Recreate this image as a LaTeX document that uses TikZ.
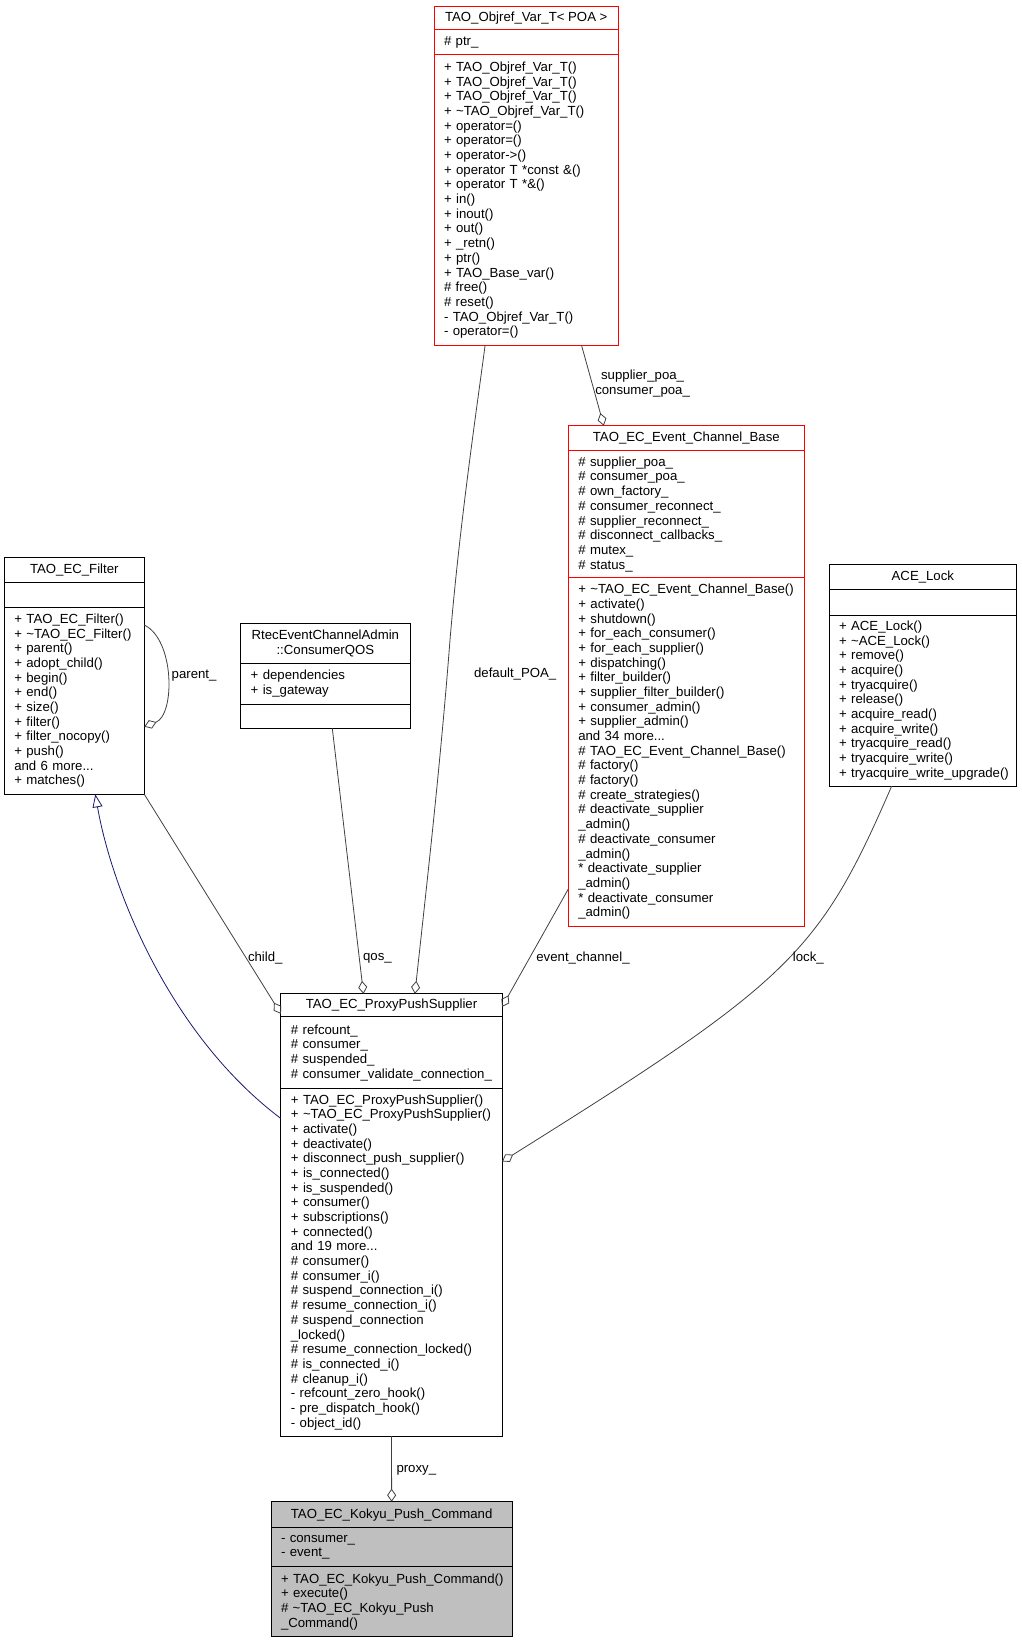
\documentclass[tikz,border=0pt]{standalone}
\usepackage{fontspec}
\setmainfont{Liberation Sans}
\usetikzlibrary{positioning,arrows.meta}
\definecolor{dxgray}{HTML}{404040}
\definecolor{dxnavy}{HTML}{191970}
\definecolor{dxfill}{HTML}{BFBFBF}
\newcommand{\dxfont}{\fontsize{13.2}{14.68}\selectfont}
\tikzset{
  part/.style={draw, line width=1pt, fill=white, outer sep=0pt, inner ysep=0pt, font=\dxfont},
  head/.style={part, minimum width=#1, align=center, inner xsep=0pt},
  body/.style={part, text width=#1, align=left, inner xsep=0pt, execute at begin node={\leftskip=10pt}},
  assoc/.style={draw=dxgray, line width=0.8pt, -{Diamond[open,length=13pt,width=9pt]}},
  inherit/.style={draw=dxnavy, line width=0.8pt, -{Triangle[open,length=13pt,width=10pt]}},
  role/.style={font=\dxfont, inner sep=0pt},
}
\begin{document}
\begin{tikzpicture}[x=1pt, y=-1pt]
  \useasboundingbox (0,0) rectangle (1021,1643);

  % TAO_Objref_Var_T
  \node[head=184.5pt, draw=red, minimum height=23.1pt, anchor=north] (objT) at (526.25,6.3) {TAO\_Objref\_Var\_T< POA >};
  \node[body=184.5pt, draw=red, minimum height=25.1pt, below=0pt of objT] (objA) {\# ptr\_};
  \node[body=184.5pt, draw=red, minimum height=291.4pt, below=0pt of objA] (objM) {+ TAO\_Objref\_Var\_T()\\
    + TAO\_Objref\_Var\_T()\\
    + TAO\_Objref\_Var\_T()\\
    + \textasciitilde TAO\_Objref\_Var\_T()\\
    + operator=()\\
    + operator=()\\
    + operator->()\\
    + operator T *const \&()\\
    + operator T *\&()\\
    + in()\\
    + inout()\\
    + out()\\
    + \_retn()\\
    + ptr()\\
    + TAO\_Base\_var()\\
    \# free()\\
    \# reset()\\
    - TAO\_Objref\_Var\_T()\\
    - operator=()};

  % TAO_EC_Event_Channel_Base
  \node[head=236pt, draw=red, minimum height=25pt, anchor=north] (ecbT) at (686.3,425.7) {TAO\_EC\_Event\_Channel\_Base};
  \node[body=236pt, draw=red, minimum height=127pt, below=0pt of ecbT] (ecbA) {\# supplier\_poa\_\\
    \# consumer\_poa\_\\
    \# own\_factory\_\\
    \# consumer\_reconnect\_\\
    \# supplier\_reconnect\_\\
    \# disconnect\_callbacks\_\\
    \# mutex\_\\
    \# status\_};
  \node[body=236pt, draw=red, minimum height=348.3pt, below=0pt of ecbA] (ecbM) {+ \textasciitilde TAO\_EC\_Event\_Channel\_Base()\\
    + activate()\\
    + shutdown()\\
    + for\_each\_consumer()\\
    + for\_each\_supplier()\\
    + dispatching()\\
    + filter\_builder()\\
    + supplier\_filter\_builder()\\
    + consumer\_admin()\\
    + supplier\_admin()\\
    and 34 more...\\
    \# TAO\_EC\_Event\_Channel\_Base()\\
    \# factory()\\
    \# factory()\\
    \# create\_strategies()\\
    \# deactivate\_supplier\\
    \_admin()\\
    \# deactivate\_consumer\\
    \_admin()\\
    {}* deactivate\_supplier\\
    \_admin()\\
    {}* deactivate\_consumer\\
    \_admin()};

  % TAO_EC_Filter
  \node[head=140pt, minimum height=25pt, anchor=north] (filT) at (74.3,557.3) {TAO\_EC\_Filter};
  \node[body=140pt, minimum height=25pt, below=0pt of filT] (filA) {};
  \node[body=140pt, minimum height=187pt, below=0pt of filA] (filM) {+ TAO\_EC\_Filter()\\
    + \textasciitilde TAO\_EC\_Filter()\\
    + parent()\\
    + adopt\_child()\\
    + begin()\\
    + end()\\
    + size()\\
    + filter()\\
    + filter\_nocopy()\\
    + push()\\
    and 6 more...\\
    + matches()};

  % RtecEventChannelAdmin::ConsumerQOS
  \node[head=169.3pt, minimum height=40pt, anchor=north] (qosT) at (325.35,623.3) {RtecEventChannelAdmin\\::ConsumerQOS};
  \node[body=169.3pt, minimum height=40.7pt, below=0pt of qosT] (qosA) {+ dependencies\\
    + is\_gateway};
  \node[body=169.3pt, minimum height=24.3pt, below=0pt of qosA] (qosM) {};

  % ACE_Lock
  \node[head=187.7pt, minimum height=25.3pt, anchor=north] (aceT) at (922.85,564) {ACE\_Lock};
  \node[body=187.7pt, minimum height=25.7pt, below=0pt of aceT] (aceA) {};
  \node[body=187.7pt, minimum height=171pt, below=0pt of aceA] (aceM) {+ ACE\_Lock()\\
    + \textasciitilde ACE\_Lock()\\
    + remove()\\
    + acquire()\\
    + tryacquire()\\
    + release()\\
    + acquire\_read()\\
    + acquire\_write()\\
    + tryacquire\_read()\\
    + tryacquire\_write()\\
    + tryacquire\_write\_upgrade()};

  % TAO_EC_ProxyPushSupplier
  \node[head=221.2pt, minimum height=23.1pt, anchor=north] (ppsT) at (391.5,993.8) {TAO\_EC\_ProxyPushSupplier};
  \node[body=221.2pt, minimum height=71.3pt, below=0pt of ppsT] (ppsA) {\# refcount\_\\
    \# consumer\_\\
    \# suspended\_\\
    \# consumer\_validate\_connection\_};
  \node[body=221.2pt, minimum height=348pt, below=0pt of ppsA] (ppsM) {+ TAO\_EC\_ProxyPushSupplier()\\
    + \textasciitilde TAO\_EC\_ProxyPushSupplier()\\
    + activate()\\
    + deactivate()\\
    + disconnect\_push\_supplier()\\
    + is\_connected()\\
    + is\_suspended()\\
    + consumer()\\
    + subscriptions()\\
    + connected()\\
    and 19 more...\\
    \# consumer()\\
    \# consumer\_i()\\
    \# suspend\_connection\_i()\\
    \# resume\_connection\_i()\\
    \# suspend\_connection\\
    \_locked()\\
    \# resume\_connection\_locked()\\
    \# is\_connected\_i()\\
    \# cleanup\_i()\\
    - refcount\_zero\_hook()\\
    - pre\_dispatch\_hook()\\
    - object\_id()};

  % TAO_EC_Kokyu_Push_Command
  \node[head=241.3pt, fill=dxfill, minimum height=26pt, anchor=north] (kokT) at (391.65,1501.7) {TAO\_EC\_Kokyu\_Push\_Command};
  \node[body=241.3pt, fill=dxfill, minimum height=39pt, below=0pt of kokT] (kokA) {- consumer\_\\
    - event\_};
  \node[body=241.3pt, fill=dxfill, minimum height=70pt, below=0pt of kokA] (kokM) {+ TAO\_EC\_Kokyu\_Push\_Command()\\
    + execute()\\
    \# \textasciitilde TAO\_EC\_Kokyu\_Push\\
    \_Command()};

  % connectors
  \draw[assoc] ([xshift=51pt]objM.south west) .. controls (478,400) and (460,520) .. (450,640) .. controls (440,770) and (425,900) .. ([xshift=134pt]ppsT.north west);
  \draw[assoc] ([xshift=147.7pt]objM.south west) -- ([xshift=35.5pt]ecbT.north west);
  \draw[assoc] ([yshift=-17.7pt]filM.north east) .. controls (175,640) and (175,715) .. ([yshift=-119.4pt]filM.north east);
  \draw[assoc] (filM.south east) -- ([yshift=-20pt]ppsT.north west);
  \draw[assoc] ([xshift=91.6pt]qosM.south west) -- ([xshift=82.6pt]ppsT.north west);
  \draw[assoc] ([yshift=37pt]ecbM.south west) -- ([yshift=-13pt]ppsT.north east);
  \draw[assoc] ([xshift=62.7pt]aceM.south west) .. controls (819.2,953.5) and (790.5,981) .. ([yshift=-73.3pt]ppsM.north east);
  \draw[inherit] ([yshift=-30.3pt]ppsM.north west) .. controls (170,1035) and (112,890) .. ([xshift=91pt]filM.south west);
  \draw[assoc] (ppsM.south) -- (kokT.north);

  % roles
  \node[role, align=center] (poaLbl) at (642.6,383.6) {supplier\_poa\_\\consumer\_poa\_};
  \node[role, anchor=west] (parentLbl) at (171.5,675.3) {parent\_};
  \node[role] (defaultLbl) at (515.2,674) {default\_POA\_};
  \node[role] (childLbl) at (265.3,958.5) {child\_};
  \node[role] (qosLbl) at (377.4,958.5) {qos\_};
  \node[role] (channelLbl) at (583,958.5) {event\_channel\_};
  \node[role] (lockLbl) at (808.3,958.5) {lock\_};
  \node[role, anchor=west] (proxyLbl) at (396.3,1470) {proxy\_};
\end{tikzpicture}
\end{document}
